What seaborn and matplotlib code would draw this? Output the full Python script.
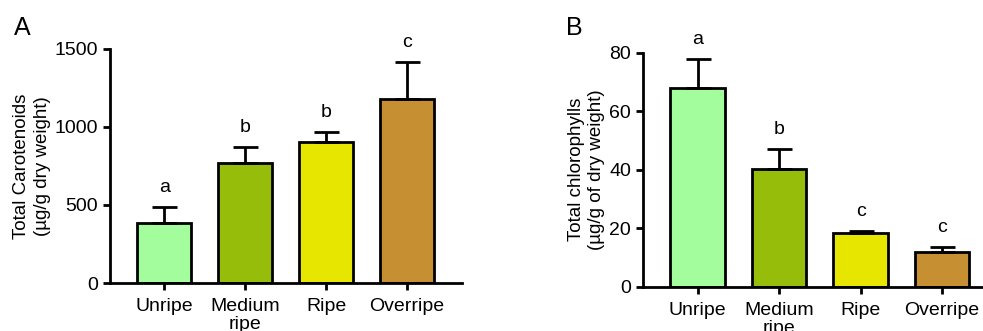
import pandas as pd
import numpy as np
import matplotlib
matplotlib.use("Agg")
import matplotlib.pyplot as plt
import seaborn as sns

# data
stages = ["Unripe", "Medium\nripe", "Ripe", "Overripe"]
carotenoids = [386, 771, 906, 1181]
carotenoids_err = [99, 101, 60, 236]
carotenoids_letters = ["a", "b", "b", "c"]
chlorophylls = [68.0, 40.3, 18.3, 11.9]
chlorophylls_err = [9.8, 6.8, 0.8, 1.6]
chlorophylls_letters = ["a", "b", "c", "c"]
colors = ["#a4fd9c", "#95bd0a", "#e6e600", "#c68f31"]

sns.set_style("ticks")
plt.rcParams["font.family"] = ["Liberation Sans", "DejaVu Sans"]
plt.rcParams["text.color"] = "black"
plt.rcParams["axes.labelcolor"] = "black"
plt.rcParams["xtick.color"] = "black"
plt.rcParams["ytick.color"] = "black"


def panel(ax, values, errs, letters, ylabel, ymax, yticks, letter_pad, xlim_hi):
    df = pd.DataFrame({"stage": stages, "value": values})
    sns.barplot(data=df, x="stage", y="value", hue="stage", palette=colors,
                saturation=1, legend=False, width=0.67, edgecolor="black",
                linewidth=2, errorbar=None, ax=ax)
    xs = np.arange(len(stages))
    ax.errorbar(xs, values, yerr=[np.zeros(len(values)), errs], fmt="none",
                ecolor="black", elinewidth=2, capsize=9, capthick=2, zorder=1)
    for x, v, e, t in zip(xs, values, errs, letters):
        ax.text(x, v + e + letter_pad, t, ha="center", va="bottom", fontsize=14)
    ax.set_ylim(0, ymax)
    ax.set_yticks(yticks)
    ax.set_xlim(-0.67, xlim_hi)
    ax.set_xlabel("")
    ax.set_ylabel(ylabel, fontsize=13.5, labelpad=3, linespacing=1.25)
    ax.tick_params(axis="both", labelsize=14, width=2, length=5)
    ax.tick_params(axis="x", pad=6)
    for s in ["left", "bottom"]:
        ax.spines[s].set_linewidth(2)
        ax.spines[s].set_color("black")
    sns.despine(ax=ax)
    for lab in ax.get_xticklabels():
        lab.set_linespacing(1.05)


fig = plt.figure(figsize=(9.83, 3.31), dpi=100)
ax1 = fig.add_axes([0.112, 0.145, 0.358, 0.707])
ax2 = fig.add_axes([0.654, 0.134, 0.35, 0.707])

panel(ax1, carotenoids, carotenoids_err, carotenoids_letters,
      "Total Carotenoids\n(µg/g dry weight)", 1500, [0, 500, 1000, 1500], 70, 3.68)
panel(ax2, chlorophylls, chlorophylls_err, chlorophylls_letters,
      "Total chlorophylls\n(µg/g of dry weight)", 80, [0, 20, 40, 60, 80], 3.8, 3.55)

fig.text(0.014, 0.893, "A", fontsize=18)
fig.text(0.576, 0.893, "B", fontsize=18)

fig.savefig("out.png", dpi=100)
